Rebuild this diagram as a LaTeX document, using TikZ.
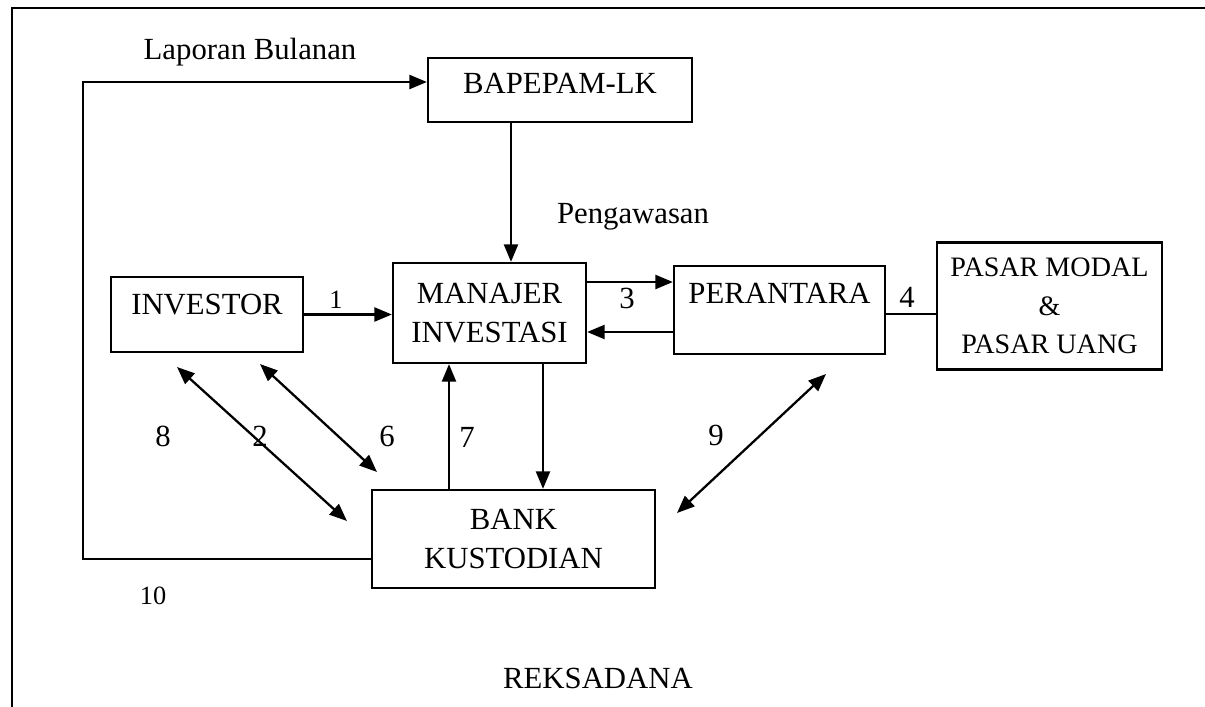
\documentclass[tikz,border=0pt]{standalone}
\usepackage{fontspec}
\setmainfont{Liberation Serif}
\usepackage{tikz}
\usetikzlibrary{positioning,arrows.meta,calc}
\tikzset{
    box/.style={rectangle,draw,line width=1.3pt,inner sep=0pt,align=center,
                font=\fontsize{17.5}{22}\selectfont},
    edge/.style={-{Triangle[length=10pt,width=8pt]},line width=1.3pt},
    dbl/.style={{Triangle[length=10pt,width=8pt]}-{Triangle[length=10pt,width=8pt]},line width=1.3pt},
    link/.style={line width=1.1pt},
    num/.style={font=\fontsize{17.5}{20}\selectfont},
    numsm/.style={font=\fontsize{15}{18}\selectfont},
}
\begin{document}
\begin{tikzpicture}[x=0.02cm,y=-0.02cm,every node/.style={font=\fontsize{17.5}{20}\selectfont}]
\useasboundingbox (0,0) rectangle (1205,707);
% frame
\draw[link] (12,707) -- (12,8) -- (1205,8);

\node[box,minimum width=5.28cm,minimum height=1.28cm,text depth=8pt]  (Bp)  at (560,90)     {BAPEPAM-LK};
\node[box,minimum width=3.84cm,minimum height=1.5cm,text depth=11.4pt] (Inv) at (207,314.5) {INVESTOR};
\node[box,minimum width=3.86cm,minimum height=2cm]    (MI)  at (489.5,313)  {MANAJER\\INVESTASI};
\node[box,minimum width=4.22cm,minimum height=1.76cm,text depth=19pt] (Per) at (779.5,310) {PERANTARA};
\node[box,minimum width=4.5cm,minimum height=2.54cm,font=\fontsize{16}{22}\selectfont] (PM) at (1049.5,306) {PASAR MODAL\\\&\\PASAR UANG};
\node[box,minimum width=5.66cm,minimum height=1.96cm] (BK)  at (513.5,539)  {BANK\\KUSTODIAN};

\node (lap) at (250,52)  {Laporan Bulanan};
\node (pgw) at (633,217) {Pengawasan};
\node (rks) at (598,678) {REKSADANA};

% turning points and free ends
\coordinate (c10) at (372,559);
\coordinate (cl1) at (83,559);
\coordinate (cl2) at (83,82);
\coordinate (xp) at (511,0);
\coordinate (x7) at (449,0);
\coordinate (xd) at (543,0);
\coordinate (y3) at (0,282);
\coordinate (yb) at (0,332);
\coordinate (y4) at (0,314);
\coordinate (d2a) at (177,367);
\coordinate (d2b) at (347,521);
\coordinate (d6a) at (260,364);
\coordinate (d6b) at (377,472);
\coordinate (d9a) at (826,374);
\coordinate (d9b) at (677,513);

\draw[edge] (c10) -- (cl1) -- (cl2) -- (Bp.west |- cl2);
\draw[edge] (Bp.south -| xp) -- (MI.north -| xp);
\draw[edge] (Inv.east) -- (Inv.east -| MI.west);
\draw[edge] (MI.east |- y3) -- (Per.west |- y3);
\draw[edge] (Per.west |- yb) -- (MI.east |- yb);
\draw[link] (Per.east |- y4) -- (PM.west |- y4);
\draw[edge] (BK.north -| x7) -- (MI.south -| x7);
\draw[edge] (MI.south -| xd) -- (BK.north -| xd);
\draw[dbl] (d2a) -- (d2b);
\draw[dbl] (d6a) -- (d6b);
\draw[dbl] (d9a) -- (d9b);

\node[numsm] (n1)  at (336,300) {1};
\node[num]   (n2)  at (260,436) {2};
\node[num]   (n3)  at (627,298) {3};
\node[num]   (n4)  at (907,297) {4};
\node[num]   (n6)  at (387,436) {6};
\node[num]   (n7)  at (467,437) {7};
\node[num]   (n8)  at (163,436) {8};
\node[num]   (n9)  at (716,435) {9};
\node[numsm] (n10) at (153,596) {10};
\end{tikzpicture}
\end{document}
